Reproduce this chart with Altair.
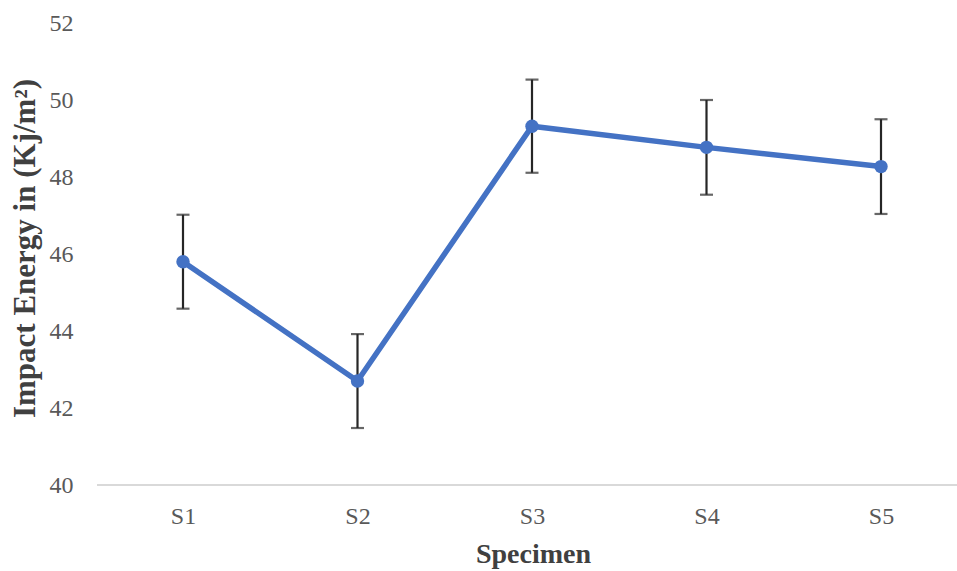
import altair as alt
import pandas as pd

specimens = ["S1", "S2", "S3", "S4", "S5"]
energy = [45.80, 42.70, 49.32, 48.77, 48.27]
error = [1.22, 1.22, 1.21, 1.23, 1.23]
y_ticks = [40, 42, 44, 46, 48, 50, 52]

df = pd.DataFrame({
    "Specimen": specimens,
    "Energy": energy,
    "lo": [e - d for e, d in zip(energy, error)],
    "hi": [e + d for e, d in zip(energy, error)],
})

FONT = "Liberation Serif"
BLUE = "#4472C4"
BAR = "#262626"

x_scale = alt.Scale(type="point", range=[86, 784], padding=0)
x_axis = alt.Axis(
    title="Specimen", domain=False, ticks=False, labelAngle=0,
    labelFont=FONT, labelFontSize=24, labelColor="#595959", labelPadding=19,
    titleFont=FONT, titleFontSize=28, titleFontWeight="bold", titleColor="#404040",
    titleX=436, titleY=69, titleBaseline="middle", titleAnchor="start", titleAlign="center",
)
x_enc = alt.X("Specimen:N", sort=specimens, scale=x_scale, axis=x_axis)

y_scale = alt.Scale(domain=[40, 52], nice=False, zero=False)
y_axis = alt.Axis(
    title="Impact Energy in (Kj/m²)", values=y_ticks, grid=False, domain=False, ticks=False,
    labelFont=FONT, labelFontSize=24, labelColor="#595959", labelPadding=24,
    titleFont=FONT, titleFontSize=31, titleFontWeight="bold", titleColor="#404040",
    titleX=-72, titleY=225, titleBaseline="middle", titleAlign="center", titleAnchor="start",
)


def Y(field):
    return alt.Y(field, scale=y_scale, axis=y_axis)


base = alt.Chart(df)

baseline = alt.Chart(pd.DataFrame({"v": [40]})).mark_rule(color="#d9d9d9", strokeWidth=2).encode(
    y=Y("v:Q")
)
bars = base.mark_rule(color=BAR, strokeWidth=2.2).encode(x=x_enc, y=Y("lo:Q"), y2="hi:Q")
caps_lo = base.mark_tick(color=BAR, thickness=2.2, size=13, orient="horizontal").encode(
    x=x_enc, y=Y("lo:Q")
)
caps_hi = base.mark_tick(color=BAR, thickness=2.2, size=13, orient="horizontal").encode(
    x=x_enc, y=Y("hi:Q")
)
line = base.mark_line(color=BLUE, strokeWidth=5.5).encode(x=x_enc, y=Y("Energy:Q"))
points = base.mark_point(filled=True, color=BLUE, size=180, opacity=1).encode(
    x=x_enc, y=Y("Energy:Q")
)

chart = alt.layer(baseline, bars, caps_lo, caps_hi, line, points).properties(
    width=860, height=462,
    autosize=alt.AutoSizeParams(type="none"),
    padding={"left": 97, "top": 23, "right": 0, "bottom": 86},
    background="white",
).configure_view(stroke=None)

chart.save("out.html", embed_options={"renderer": "svg", "actions": False})
